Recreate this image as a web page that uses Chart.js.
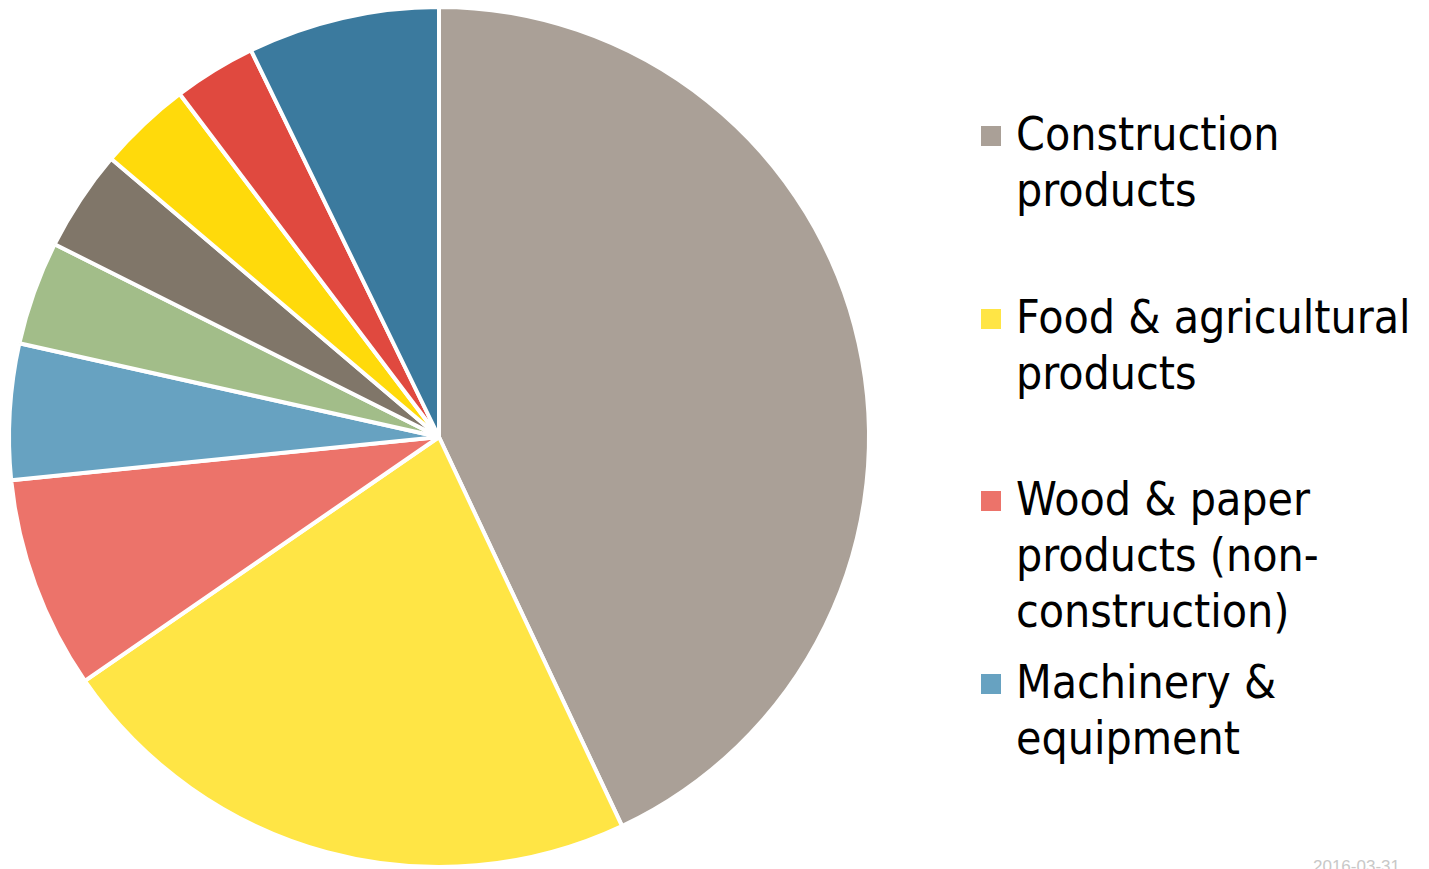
<!DOCTYPE html>
<html>
<head>
<meta charset="utf-8">
<script src="https://cdn.jsdelivr.net/npm/chart.js@4.4.1/dist/chart.umd.min.js"></script>
<style>
  html, body { margin:0; padding:0; background:#fff; width:1429px; height:869px; overflow:hidden; }
  #wrap { position:absolute; left:0; top:0; width:878px; height:869px; }
  #legend { position:absolute; left:981px; top:0; width:448px; height:869px;
            font-family:"Liberation Sans Narrow","DejaVu Sans Condensed","Liberation Sans",sans-serif;
            font-size:46px; line-height:56px; color:#000; }
  .item { position:absolute; left:0; }
  .sw { position:absolute; left:0; top:20px; width:20px; height:20px; }
  .tx { position:absolute; left:35px; top:0; white-space:nowrap; }
  #date { position:absolute; left:1313px; top:857px; font-family:"Liberation Sans",sans-serif;
          font-size:17px; color:#c8c8c8; }
</style>
</head>
<body>
<div id="wrap"><canvas id="c"></canvas></div>
<div id="legend"></div>
<div id="date">2016-03-31</div>
<script>
const categories = [
  "Construction products",
  "Food & agricultural products",
  "Wood & paper products (non-construction)",
  "Machinery & equipment",
  "Category 5",
  "Category 6",
  "Category 7",
  "Category 8",
  "Category 9"
];
const legendLines = [
  ["Construction", "products"],
  ["Food & agricultural", "products"],
  ["Wood & paper", "products (non-", "construction)"],
  ["Machinery &", "equipment"]
];
const shares = [43.0, 22.4, 8.0, 5.1, 3.9, 3.8, 3.5, 3.1, 7.2];
const colors = ["#AAA097", "#FFE545", "#EC736A", "#67A2C1", "#A2BD89", "#807669", "#FFDA0B", "#E0493F", "#3B7A9E"];
const legendCount = 4;

const chart = new Chart(document.getElementById('c'), {
  type: 'pie',
  data: {
    labels: categories,
    datasets: [{
      data: shares,
      backgroundColor: colors,
      borderColor: '#ffffff',
      borderWidth: 4,
      hoverOffset: 0,
      offset: 0
    }]
  },
  options: {
    responsive: true,
    maintainAspectRatio: false,
    animation: false,
    layout: { padding: { top: 5, bottom: 0, left: 7, right: 7 } },
    plugins: {
      legend: { display: false },
      tooltip: { enabled: false }
    }
  }
});

const leg = document.getElementById('legend');
const tops = [106, 289, 471, 654];
for (let i = 0; i < legendCount; i++) {
  const it = document.createElement('div');
  it.className = 'item';
  it.style.top = tops[i] + 'px';
  const sw = document.createElement('div');
  sw.className = 'sw';
  sw.style.background = chart.data.datasets[0].backgroundColor[i];
  const tx = document.createElement('div');
  tx.className = 'tx';
  tx.innerHTML = legendLines[i].map(s => s.replace(/&/g, '&amp;')).join('<br>');
  it.appendChild(sw);
  it.appendChild(tx);
  leg.appendChild(it);
}
</script>
</body>
</html>
